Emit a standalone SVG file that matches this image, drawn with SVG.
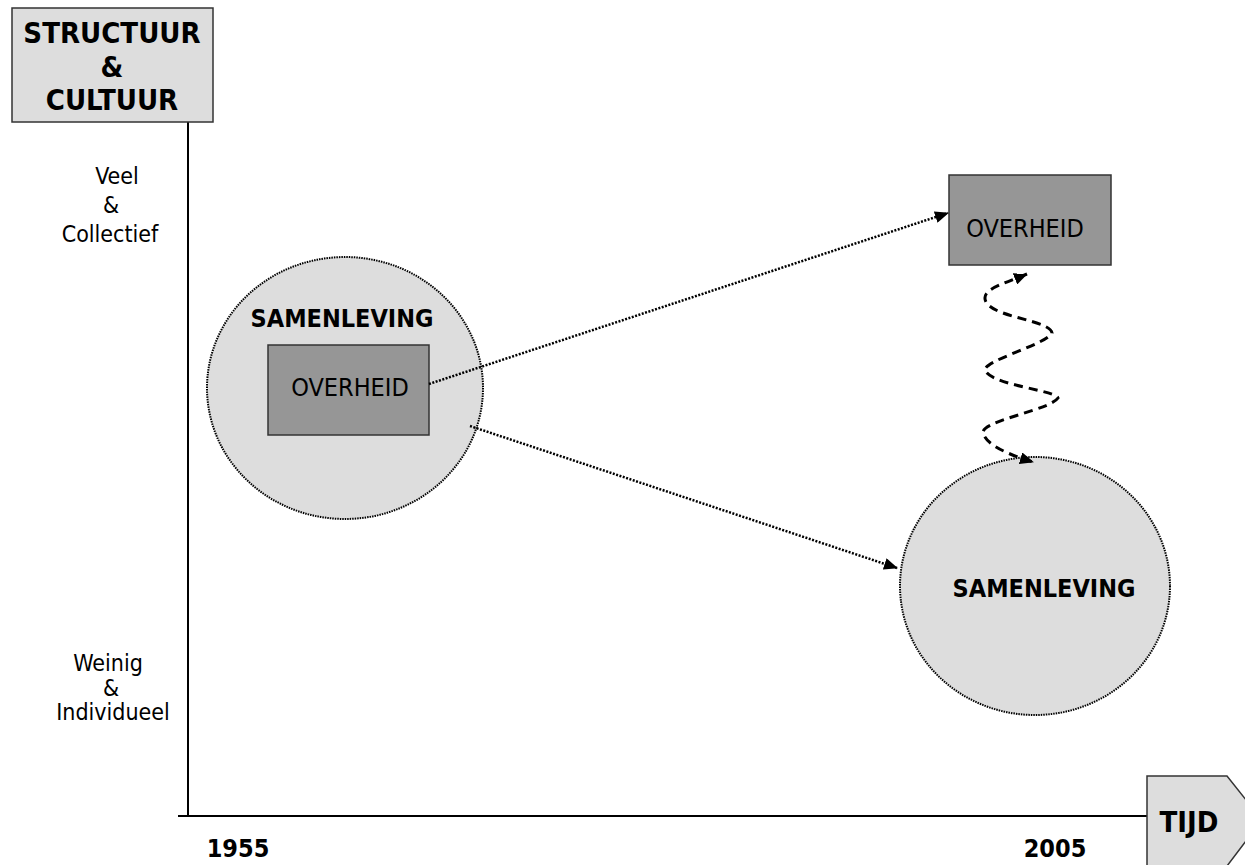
<svg xmlns="http://www.w3.org/2000/svg" width="1245" height="865" viewBox="0 0 1245 865">
<style>
.reg{font-family:"DejaVu Sans Condensed","DejaVu Sans",sans-serif;font-size:23px;fill:#000;text-anchor:middle}
.box{font-size:25px}
.bold{font-family:"DejaVu Sans Condensed","DejaVu Sans",sans-serif;font-weight:bold;font-size:25px;fill:#000;text-anchor:middle}
.big{font-size:29px}
.light{fill:#dddddd;stroke:#333;stroke-width:1.5}
.circ{fill:#dddddd;stroke:#000;stroke-width:2;stroke-dasharray:1.5 1}
.dark{fill:#969696;stroke:#333;stroke-width:1.5}
.axis{stroke:#000;stroke-width:2;fill:none}
.dot{stroke:#000;stroke-width:2.5;stroke-dasharray:2 1.5;fill:none}
.dash{stroke:#000;stroke-width:3;stroke-dasharray:9 6;fill:none}
</style>
<defs>
<marker id="ah" viewBox="0 0 14 12" refX="13" refY="6" markerWidth="14" markerHeight="12" markerUnits="userSpaceOnUse" orient="auto-start-reverse">
<path d="M0,0 L14,6 L0,12 z" fill="#000"/>
</marker>
</defs>
<g id="axes">
<line class="axis" x1="188" y1="122" x2="188" y2="817"/>
<line class="axis" x1="178" y1="816" x2="1154" y2="816"/>
</g>
<g id="y-title">
<rect class="light" x="12" y="8" width="201" height="114"/>
<text class="bold big" x="112" y="43">STRUCTUUR</text>
<text class="bold big" x="112" y="77">&amp;</text>
<text class="bold big" x="112" y="110">CULTUUR</text>
</g>
<g id="y-high">
<text class="reg" x="117" y="184">Veel</text>
<text class="reg" x="111" y="213">&amp;</text>
<text class="reg" x="110" y="242">Collectief</text>
</g>
<g id="y-low">
<text class="reg" x="108" y="671">Weinig</text>
<text class="reg" x="111" y="696">&amp;</text>
<text class="reg" x="113" y="720">Individueel</text>
</g>
<g id="x-title">
<polygon class="light" points="1147,776 1227,776 1262,820 1227,866 1147,866"/>
<text class="bold big" x="1189" y="832">TIJD</text>
</g>
<g id="years">
<text class="bold" x="238" y="857">1955</text>
<text class="bold" x="1055" y="857">2005</text>
</g>
<g id="samenleving-1955">
<ellipse class="circ" cx="345" cy="388" rx="138" ry="131"/>
<text class="bold" x="342" y="327">SAMENLEVING</text>
</g>
<g id="overheid-1955">
<rect class="dark" x="268" y="345" width="161" height="90"/>
<text class="reg box" x="350" y="396">OVERHEID</text>
</g>
<g id="overheid-2005">
<rect class="dark" x="949" y="175" width="162" height="90"/>
<text class="reg box" x="1025" y="237">OVERHEID</text>
</g>
<g id="samenleving-2005">
<ellipse class="circ" cx="1035" cy="586" rx="135" ry="129"/>
<text class="bold" x="1044" y="597">SAMENLEVING</text>
</g>
<g id="connectors">
<line class="dot" x1="429" y1="384" x2="948" y2="213" marker-end="url(#ah)"/>
<line class="dot" x1="470" y1="426" x2="897" y2="568" marker-end="url(#ah)"/>
<path class="dash" d="M1027,274 C1000,285 980,290 986,302 C995,318 1050,320 1052,333 C1045,345 985,360 985,370 C990,385 1055,390 1058,398 C1050,410 985,420 983,432 C985,445 1010,455 1033,462" marker-start="url(#ah)" marker-end="url(#ah)"/>
</g>
</svg>
